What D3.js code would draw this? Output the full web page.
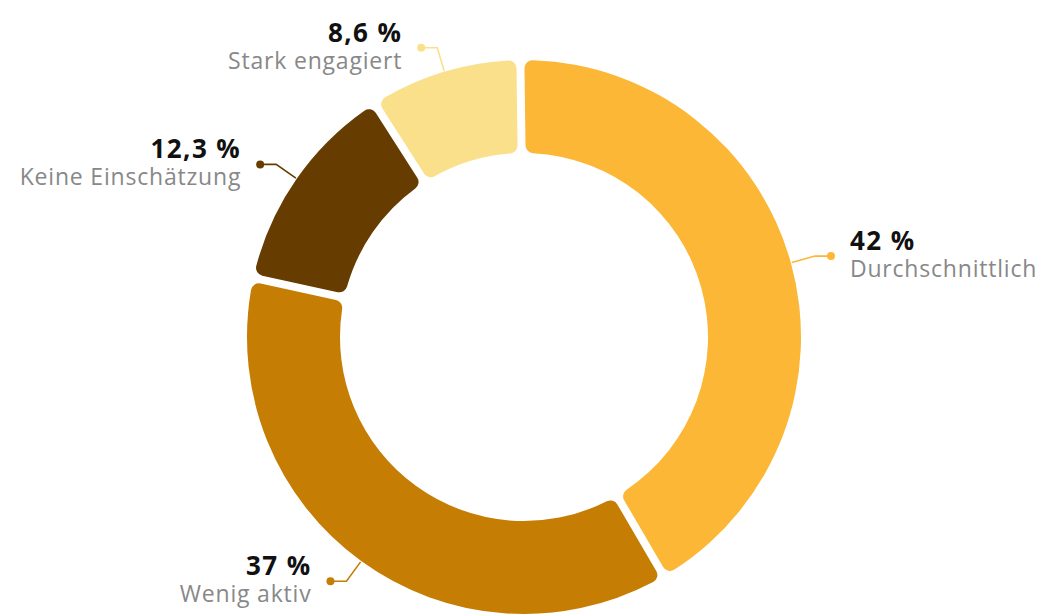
<!DOCTYPE html>
<html lang="de">
<head>
<meta charset="utf-8">
<script src="https://cdn.jsdelivr.net/npm/d3@7"></script>
<style>
  html, body { margin: 0; padding: 0; background: #ffffff; }
  svg { display: block; }
  .val { font-family: "Open Sans", "Noto Sans", sans-serif; font-weight: 700; font-size: 26px; letter-spacing: 1.4px; fill: #111111; }
  .lab { font-family: "Open Sans", "Noto Sans", sans-serif; font-weight: 400; font-size: 23px; letter-spacing: 0.8px; fill: #888888; }
</style>
</head>
<body>
<svg id="chart" width="1041" height="616"></svg>
<script>
// Engagement shares, clockwise from the top
const categories = ["Durchschnittlich", "Wenig aktiv", "Keine Einschätzung", "Stark engagiert"];
const shares = [42, 37, 12.3, 8.6];
const valueLabels = ["42 %", "37 %", "12,3 %", "8,6 %"];
const colours = ["#FBB735", "#C57D04", "#663C00", "#FAE08B"];

const width = 1041, height = 616;
const cx = 524, cy = 337;
const outerR = 277, innerR = 184;

const svg = d3.select("#chart");
const g = svg.append("g").attr("transform", `translate(${cx},${cy})`);

const rows = categories.map((name, i) => ({ name, value: shares[i], text: valueLabels[i], colour: colours[i] }));

const turn = -0.013;
const pie = d3.pie()
  .sort(null)
  .value(d => d.value)
  .startAngle(turn)
  .endAngle(turn + 2 * Math.PI)
  .padAngle(0.024);

const arc = d3.arc()
  .innerRadius(innerR)
  .outerRadius(outerR)
  .cornerRadius(8);

const arcs = pie(rows);

g.selectAll("path.slice")
  .data(arcs)
  .join("path")
  .attr("class", "slice")
  .attr("d", arc)
  .attr("fill", d => d.data.colour);

// Leader lines: radial stub from the ring edge, then a short horizontal run to a dot
const edge = d3.arc().innerRadius(outerR + 1).outerRadius(outerR + 1);
const bend = d3.arc().innerRadius(outerR + 25).outerRadius(outerR + 25);

arcs.forEach(a => {
  const mid = (a.startAngle + a.endAngle) / 2;
  const right = mid < Math.PI;
  const [x0, y0] = edge.centroid(a);
  const [x1, y1] = bend.centroid(a);
  const x2 = x1 + (right ? 16 : -16);
  const col = a.data.colour;

  g.append("path")
    .attr("d", d3.line()([[x0, y0], [x1, y1], [x2, y1]]))
    .attr("fill", "none")
    .attr("stroke", col)
    .attr("stroke-width", 1.6);

  g.append("circle")
    .attr("cx", x2).attr("cy", y1).attr("r", 4)
    .attr("fill", col);

  const tx = x2 + (right ? 19 : -19);

  // Value and category stacked in one text block
  const label = g.append("text")
    .attr("text-anchor", right ? "start" : "end");

  label.append("tspan")
    .attr("class", "val")
    .attr("x", tx).attr("y", y1 - 6)
    .text(a.data.text);

  label.append("tspan")
    .attr("class", "lab")
    .attr("x", tx).attr("y", y1 + 21)
    .text(a.data.name);
});
</script>
</body>
</html>
